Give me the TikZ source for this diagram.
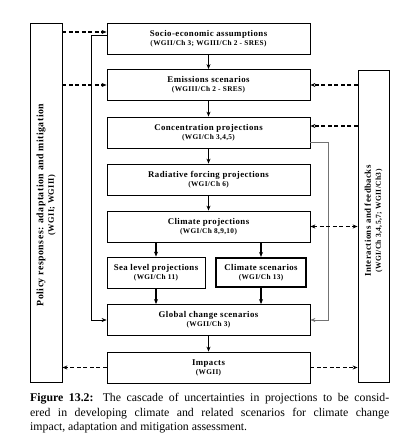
\documentclass[tikz,border=0pt]{standalone}
\usepackage{fontspec}
\setmainfont{Liberation Serif}
\newfontfamily\boxfont{Liberation Serif}[LetterSpace=5]
\usetikzlibrary{arrows.meta}
\begin{document}
\begin{tikzpicture}[x=1pt,y=-1pt,
  box/.style={draw,line width=0.8pt,inner sep=0pt,align=center,font=\boxfont\fontsize{8.8}{10}\selectfont\bfseries},
  mainbox/.style={box,minimum width=203pt,minimum height=31pt},
  side/.style={draw,line width=0.8pt,inner sep=0pt},
  flow/.style={line width=1.1pt,-{Stealth[length=5pt,width=4pt]}},
  thin/.style={line width=0.6pt,-{Stealth[length=5pt,width=4pt]}},
  dsh/.style={line width=1.2pt,dash pattern=on 4pt off 2.5pt,-{Stealth[length=5pt,width=4pt]}}
]
\useasboundingbox (0,0) rectangle (409,446);
\newcommand{\subt}[1]{\\[-1pt]{\fontsize{7.3}{8}\selectfont\bfseries #1}}
% side boxes
\node[side,minimum width=32pt,minimum height=359pt] (pol) at (46,202.5) {};
\node[rotate=90,align=center,font=\boxfont\fontsize{9.8}{10.5}\selectfont\bfseries] (poltxt) at (46,205) {Policy responses: adaptation and mitigation\\{\fontsize{8.3}{9}\selectfont (WGII; WGIII)}};
\node[side,minimum width=31pt,minimum height=312pt] (int) at (373.5,226) {};
\node[rotate=90,align=center,font=\boxfont\fontsize{8.8}{10}\selectfont\bfseries] (inttxt) at (373.5,221) {Interactions and feedbacks\\{\fontsize{7.5}{9}\selectfont (WGI/Ch 3,4,5,7; WGII/Ch3)}};
% main boxes
\node[mainbox] (soc) at (208.5,38.5) {Socio-economic assumptions\subt{(WGII/Ch 3; WGIII/Ch 2 - SRES)}};
\node[mainbox] (emi) at (208.5,85) {Emissions scenarios\subt{(WGIII/Ch 2 - SRES)}};
\node[mainbox] (con) at (208.5,132.5) {Concentration projections\subt{(WGI/Ch 3,4,5)}};
\node[mainbox] (rad) at (208.5,179.5) {Radiative forcing projections\subt{(WGI/Ch 6)}};
\node[mainbox] (cli) at (208.5,226.5) {Climate projections\subt{(WGI/Ch 8,9,10)}};
\node[box,minimum width=98pt,minimum height=31pt] (sea) at (156,272.5) {Sea level projections\subt{(WGI/Ch 11)}};
\node[box,line width=2.1pt,minimum width=90pt,minimum height=29pt] (scn) at (261,272.5) {Climate scenarios\subt{(WGI/Ch 13)}};
\node[mainbox] (glo) at (208.5,320) {Global change scenarios\subt{(WGII/Ch 3)}};
\node[mainbox] (imp) at (208.5,367.5) {Impacts\subt{(WGII)}};
% vertical flow
\draw[flow] (soc) -- (emi);
\draw[flow] (emi) -- (con);
\draw[flow] (con) -- (rad);
\draw[flow] (rad) -- (cli);
\draw[flow] (cli.south -| sea) -- (sea);
\draw[flow] (cli.south -| scn) -- (scn);
\draw[flow] (sea) -- (sea |- glo.north);
\draw[flow] (scn) -- (scn |- glo.north);
\draw[flow] (glo) -- (imp);
% bypass lines
\coordinate (l1) at (91,35);
\coordinate (l2) at (91,320);
\draw[thin] (soc.west |- l1) -- (l1) -- (l2) -- (glo.west);
\coordinate (r1) at (328,142);
\coordinate (r2) at (328,320);
\draw[thin,draw=black!55] (con.east |- r1) -- (r1) -- (r2) -- (glo.east);
% dashed feedbacks
\draw[dsh] (pol.east |- 0,32) -- (soc.west |- 0,32);
\draw[dsh] (pol.east |- emi) -- (emi.west);
\draw[dsh] (imp.west) -- (pol.east |- imp);
\draw[dsh] (int.west |- emi) -- (emi.east);
\draw[dsh] (int.west |- 0,126) -- (con.east |- 0,126);
\draw[dsh,{Stealth[length=5pt,width=4pt]}-{Stealth[length=5pt,width=4pt]}] (cli.east) -- (int.west |- cli);
\draw[dsh] (imp.east) -- (int.west |- imp);
% caption
\node[anchor=north west,inner sep=0pt,text width=359pt,align=justify,font=\fontsize{11.8}{14.5}\selectfont] (cap) at (30,393) {\textbf{Figure 13.2:} The cascade of uncertainties in projections to be consid-\linebreak ered in developing climate and related scenarios for climate change\linebreak impact, adaptation and mitigation assessment.};
\end{tikzpicture}
\end{document}
